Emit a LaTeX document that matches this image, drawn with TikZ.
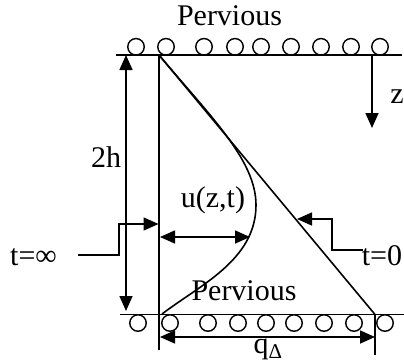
\documentclass[tikz,border=0pt]{standalone}
\usepackage{fontspec}
\setmainfont{Liberation Serif}
\usetikzlibrary{arrows.meta}
\begin{document}
\begin{tikzpicture}[x=1pt,y=-1pt,
  ln/.style={line width=1.6pt},
  tip/.tip={Triangle[length=15pt,width=13pt]},
  arr/.style={ln,-tip},
  darr/.style={ln,tip-tip},
  lbl/.style={inner sep=0pt,anchor=base,font=\fontsize{30}{36}\selectfont},
  pore/.style={line width=1.4pt,circle,draw,minimum size=16.5pt,inner sep=0pt}]
\useasboundingbox (0,0) rectangle (404,362);
% boundaries
\coordinate (TL) at (116,55); \coordinate (TR) at (402,55);
\coordinate (BL) at (120,314.5); \coordinate (BR) at (404,314.5);
\draw[ln] (TL) -- (TR);
\draw[ln] (BL) -- (BR);
\foreach \x [count=\i] in {136,166,204,235,261,291,321,351,380}
  \node[pore] (tp\i) at (\x,46.8) {};
\foreach \x [count=\i] in {138,170,208,238,266,294,324,354,385}
  \node[pore] (bp\i) at (\x,323) {};
\node[lbl] (ptop) at (229.5,25) {Pervious};
\node[lbl] (pbot) at (244,300) {Pervious};
% verticals
\coordinate (A) at (159,55); \coordinate (Ab) at (159,350);
\coordinate (B) at (375,314.5); \coordinate (Bb) at (375,355);
\draw[ln] (A) -- (Ab);
\draw[ln] (B) -- (Bb);
% initial and current distributions
\draw[ln] (A) -- (B);
\coordinate (C) at (162,314);
\draw[ln] (A) .. controls (210,116) and (256,160) .. (256,205)
  .. controls (256,260) and (200,285) .. (C);
% 2h
\coordinate (h1) at (126,55); \coordinate (h2) at (126,311);
\draw[darr] (h1) -- (h2);
\node[lbl] (l2h) at (106,167) {2h};
% z
\coordinate (z1) at (372,55); \coordinate (z2) at (372,128);
\draw[arr] (z1) -- (z2);
\node[lbl] (lz) at (397,103) {z};
% u(z,t)
\coordinate (u1) at (160,237); \coordinate (u2) at (250,237);
\draw[darr] (u1) -- (u2);
\node[lbl] (lu) at (213,207) {u(z,t)};
% q
\coordinate (q1) at (160,337); \coordinate (q2) at (375,337);
\draw[darr] (q1) -- (q2);
\node[lbl] (lq) at (268,353) {q\textsubscript{Δ}};
% t = infinity
\node[lbl] (tinf) at (33.5,265) {t=∞};
\coordinate (s1) at (78,255); \coordinate (s2) at (158.5,224);
\draw[arr] (s1) -- (119,255) -- (119,224) -- (s2);
% t = 0
\node[lbl] (tz) at (382,265) {t=0};
\coordinate (r1) at (363,250); \coordinate (r2) at (297,219);
\draw[arr] (r1) -- (332,250) -- (332,219) -- (r2);
\end{tikzpicture}
\end{document}
